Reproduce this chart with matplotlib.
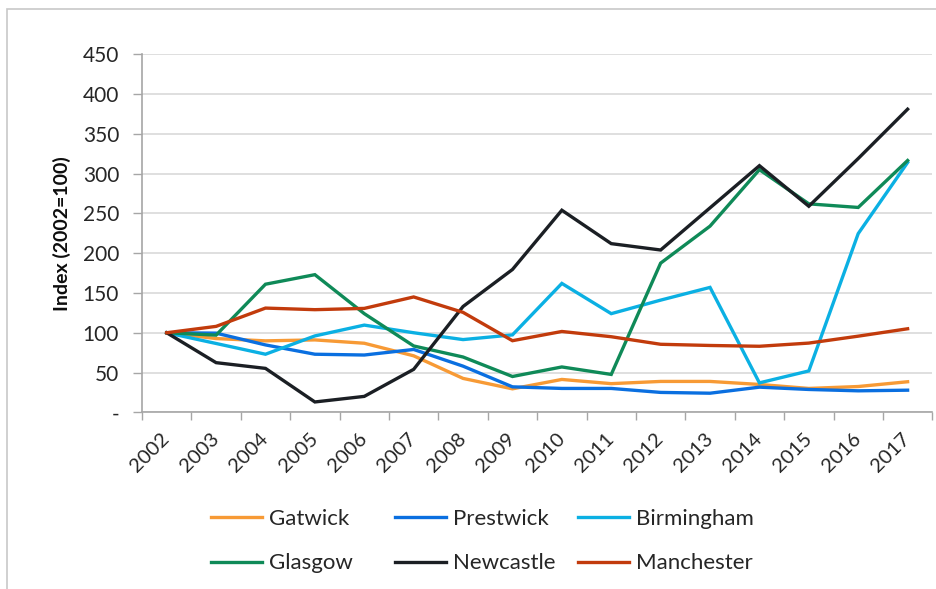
import matplotlib
matplotlib.use("Agg")
import matplotlib.pyplot as plt
from matplotlib.patches import Rectangle
import numpy as np

years = [str(y) for y in range(2002, 2018)]
gatwick    = [100, 92.7, 89.8, 91, 86.8, 71, 42.6, 29.5, 41.3, 36, 38.8, 38.8, 35, 30, 32.4, 38.4]
prestwick  = [100, 99.5, 84.7, 73, 72, 79, 58, 32, 30, 30, 25, 24, 31.6, 28.7, 27, 27.8]
birmingham = [100, 86.5, 73, 96, 109.6, 100, 91.4, 97.3, 162, 124, 141, 157, 37, 52, 224.6, 314]
glasgow    = [100, 97, 161, 173, 124, 83.4, 69.5, 45, 57, 47.6, 187.5, 234, 305, 262, 257.5, 316.5]
newcastle  = [100, 62.4, 55.2, 13, 20, 54, 133, 179.5, 254, 212, 204, 257, 310, 259, 319, 381]
manchester = [100, 108, 131, 129, 130.6, 145, 125.6, 90, 101.6, 95, 85.5, 84, 83, 87, 95.7, 105]

series = [
    ("Gatwick", gatwick, "#F79A35"),
    ("Prestwick", prestwick, "#0A6FE0"),
    ("Birmingham", birmingham, "#0BB0E3"),
    ("Glasgow", glasgow, "#0F8A58"),
    ("Newcastle", newcastle, "#1B1F24"),
    ("Manchester", manchester, "#C23B0C"),
]
yticks = [0, 50, 100, 150, 200, 250, 300, 350, 400, 450]
ytick_labels = ["-"] + [str(v) for v in yticks[1:]]

plt.rcParams['font.family'] = ['Lato', 'DejaVu Sans']
text_color = "#262626"

fig = plt.figure(figsize=(9.36, 5.89), dpi=100)
W, H = 936, 589
ax = fig.add_axes([142 / W, (H - 412.3) / H, 790.3 / W, 358 / H])

x = np.arange(len(years))
handles = {}
for name, vals, col in series:
    ln, = ax.plot(x, vals, color=col, lw=2.4, solid_joinstyle='miter', label=name, zorder=3)
    handles[name] = ln

ax.set_xlim(-0.5, len(years) - 0.5)
ax.set_ylim(0, 450)
ax.set_yticks(yticks)
ax.set_yticklabels(ytick_labels)
ax.yaxis.grid(True, color="#D9D9D9", lw=1.2)
ax.set_axisbelow(True)

ax.set_xticks(x)
ax.set_xticklabels(years)
ax.set_xticks(np.arange(-0.5, len(years)), minor=True)
ax.tick_params(axis='x', which='major', length=0, pad=17, labelsize=14.5, colors=text_color)
ax.tick_params(axis='x', which='minor', length=6, width=1, color="#A6A6A6")
ax.tick_params(axis='y', which='major', length=6.5, width=1, color="#A6A6A6", pad=10,
               labelsize=15, labelcolor=text_color)
for lab in ax.get_xticklabels():
    lab.set_rotation(45)
    lab.set_ha('right')
    lab.set_va('center')
    lab.set_rotation_mode('anchor')

for s in ['top', 'right']:
    ax.spines[s].set_visible(False)
for s in ['left', 'bottom']:
    ax.spines[s].set_color("#A6A6A6")
    ax.spines[s].set_linewidth(1.2)

fig.text(62 / W, 1 - 234 / H, "Index (2002=100)", rotation=90, ha='center', va='center',
         fontsize=14, fontweight='bold', color="#0D0D0D")

# legend: three columns, two rows, placed like the original
cols = [["Gatwick", "Glasgow"], ["Prestwick", "Newcastle"], ["Birmingham", "Manchester"]]
col_x = [211, 395, 578]
for names, cx in zip(cols, col_x):
    fig.legend(handles=[handles[n] for n in names], labels=names,
               loc='upper left', bbox_to_anchor=(cx / W, 1 - 509 / H),
               frameon=False, fontsize=16, handlelength=2.3, handletextpad=0.3,
               labelspacing=1.1, borderpad=0, borderaxespad=0,
               labelcolor=text_color)

fig.patches.append(Rectangle((7.5 / W, -0.1), 1.2, 1.1 - 9.5 / H, transform=fig.transFigure,
                             fill=False, edgecolor="#C8C8C8", lw=1.2, clip_on=False))

fig.savefig("out.png", dpi=100)
